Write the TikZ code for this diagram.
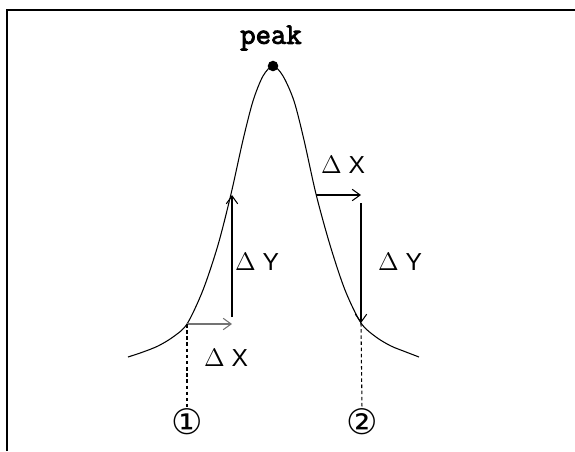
\documentclass[tikz,border=0pt]{standalone}
\usepackage{fontspec}
\newfontfamily\lblfont{Liberation Sans}
\newfontfamily\numfont{DejaVu Sans}
\newfontfamily\peakfont{Latin Modern Mono}[FakeBold=3]
\usetikzlibrary{arrows.meta}

\begin{document}
\begin{tikzpicture}[x=0.02cm,y=-0.02cm,
  delta/.style={line width=0.6pt,-{Straight Barb[length=4.5pt,width=6.5pt]}},
  guide/.style={line width=0.6pt,dash pattern=on 2pt off 1.5pt},
  lbl/.style={font=\lblfont\fontsize{14}{16}\selectfont,inner sep=1pt},
  num/.style={font=\numfont\fontsize{20}{22}\selectfont,inner sep=0pt}]
\useasboundingbox (0,0) rectangle (575,451);
\draw[line width=1.2pt] (7,451)--(7,10)--(575,10);
% peak curve
\draw[line width=0.6pt] plot[smooth] coordinates {(128,357) (143,352) (158,346) (173,337) (187,324) (203,290) (218,245) (231,194) (243,140) (253,101) (263,76) (273,66) (283,76) (294,101) (304,140) (316,194) (330,245) (345,290) (361,323) (376,337) (391,346) (406,352) (419,357)};
\coordinate (top) at (273,66);
\fill (top) circle (3pt);
\node[font=\peakfont\fontsize{17}{19}\selectfont] (peak) at (271,38) {peak};
% point 1
\coordinate (p1) at (187,324);
\coordinate (p1x) at (232,324);
\coordinate (p1y0) at (232,317);
\coordinate (p1y) at (232,195);
\draw[delta,draw=black!55] (p1)--(p1x);
\draw[delta] (p1y0)--(p1y);
\node[lbl] (dx1) at (226,358) {$\Delta$ X};
\node[lbl] (dy1) at (257,262) {$\Delta$ Y};
\node[num] (n1) at (187,422) {①};
\draw[guide] (p1)--(n1.north);
% point 2
\coordinate (p2x0) at (316,195);
\coordinate (p2x) at (361,195);
\coordinate (p2y0) at (361,203);
\coordinate (p2) at (361,323);
\draw[delta] (p2x0)--(p2x);
\draw[delta] (p2y0)--(p2);
\node[lbl] (dx2) at (343,165) {$\Delta$ X};
\node[lbl] (dy2) at (400,262) {$\Delta$ Y};
\node[num] (n2) at (362,422) {②};
\draw[guide] (p2)--(n2.north);
\end{tikzpicture}
\end{document}
